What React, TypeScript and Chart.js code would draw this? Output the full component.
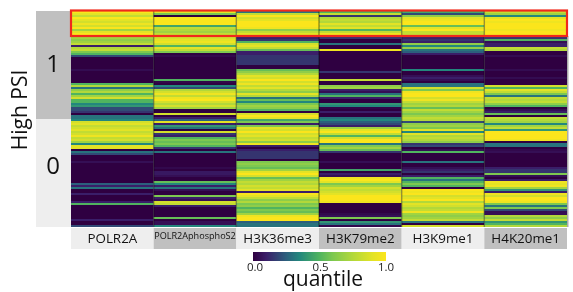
import React, { useEffect, useRef } from "react";
import { Chart, registerables } from "chart.js";

Chart.register(...registerables);

const trackLabels = ["POLR2A", "POLR2AphosphoS2", "H3K36me3", "H3K79me2", "H3K9me1", "H4K20me1"];
const groupLabels = ["1", "0"];
const axisTitle = "High PSI";
const legendTitle = "quantile";

const polr2a = [
  1,.9,.8,1,.9,.85,.95,.85,1,.7,.9,1,.8,.7,.65,.7,.8,.1,.75,.8,.6,.5,.2,0,0,0,0,0,0,.04,0,0,0,0,0,0,
  .5,.75,.3,.65,.75,.5,.7,.85,.5,.5,.35,.4,.2,.2,.15,0,.3,.3,
  .35,.85,.9,.8,.85,.9,.8,.85,.95,.8,.85,.7,.35,.9,.9,0,.3,.2,0,0,0,.05,0,0,0,0,0,0,0,0,0,0,
  .25,.1,.3,0,0,.1,0,0,0,.1,.5,0,0,0,0,0,0,0,.1,0,0,.2,
];
const polr2aPhosphoS2 = [
  .9,.6,0,1,1,1,1,.45,.8,.75,.7,.8,.8,.85,.9,.95,.85,.5,.9,.8,.6,0,.03,0,0,0,0,0,0,0,0,0,0,0,
  .5,.02,0,.35,.2,.75,.85,.95,.8,.95,1,.85,.75,.85,.7,0,0,.85,0,.1,
  .25,.9,.1,.4,.3,0,.85,.15,.1,.5,.6,.55,.6,.5,.15,0,.3,0,0,0,0,0,0,0,.03,0,.08,.08,.05,0,0,
  .55,.35,.1,.3,.05,0,0,.6,.1,.05,.85,.8,.1,0,0,0,0,0,.55,0,.05,.05,.35,
];
const h3k36me3 = [
  .3,.8,1,.85,.9,1,1,1,.95,.65,.8,.9,.8,.1,.15,.5,.85,.9,.8,.55,.1,.1,.15,.15,.15,.15,.15,0,0,
  .55,.65,.75,.9,.85,1,.85,.95,.8,.9,.75,.65,.9,.75,.3,.55,.35,.6,.7,.65,.5,0,.85,1,.9,
  .45,.6,.1,.6,.9,.85,1,.85,.9,.8,.85,.65,.95,.1,0,.1,.15,.15,.15,.15,0,.6,.65,.6,.55,.7,.9,1,.85,
  .55,.7,.8,.75,.85,.8,.9,.1,1,.9,.8,.65,.75,.6,.65,.5,.6,.55,.7,.95,1,1,.25,.3,.3,
];
const h3k79me2 = [
  .5,.8,.15,.75,.8,.75,.9,.8,.9,.5,.8,.95,.8,.15,0,0,.3,0,0,.95,0,0,0,0,0,0,0,0,0,0,.15,0,0,0,
  .8,0,0,.65,.7,.1,.05,.3,.5,.1,0,0,.4,.35,.02,0,.1,0,0,.3,
  .35,.25,.2,.1,.7,.9,1,.8,.5,.85,1,1,.3,.6,.7,.55,.15,0,0,0,0,.05,0,0,0,.45,0,.1,.05,
  .95,1,.9,.6,.7,.85,.8,.85,.9,1,1,1,.95,0,0,0,0,0,.03,.05,.6,0,.4,.3,.03,
];
const h3k9me1 = [
  .45,.2,.65,.9,.95,1,1,.55,.9,1,.8,.8,.7,.1,.15,.1,.65,.35,.65,.3,.25,.1,0,0,0,0,0,0,0,
  .35,0,0,.05,.1,.05,0,.3,.3,.85,.6,.95,1,1,.85,.95,.8,.7,.75,.55,.8,.7,.6,.7,.8,
  .75,.2,.65,.7,.6,.9,.35,.9,.75,.8,.75,.65,.15,.2,0,.05,.5,0,0,0,0,.3,0,0,.05,.1,.15,0,.1,
  .5,.3,.5,.6,.5,0,1,.95,1,.85,.9,1,.75,.9,.85,.75,.8,.95,.7,.65,.7,.8,.3,0,.85,
];
const h4k20me1 = [
  .8,.7,.35,.9,1,.95,1,1,1,.95,1,1,.9,.15,.5,.05,.1,.1,.8,.75,0,0,.04,0,0,0,0,0,0,.04,0,0,0,.04,0,0,0,
  .85,.5,.9,.8,.6,.3,.8,.75,.8,.65,.5,0,.05,.1,.55,0,.8,
  .75,.7,.35,.7,.8,.4,1,1,1,1,.95,0,.3,.3,0,.03,.05,0,0,0,0,0,0,0,.1,.15,.15,.6,.05,0,
  .1,.95,.9,.95,.7,.4,.1,.95,.85,1,1,.95,.6,.3,.6,.2,.05,.05,.75,.65,.8,.4,.5,.75,
];
const columns = [polr2a, polr2aPhosphoS2, h3k36me3, h3k79me2, h3k9me1, h4k20me1];
const rowCount = 108;
const rowIndex = Array.from({ length: rowCount }, (_, i) => i);

const ramp: [number, number, number, number][] = [
  [0, 47, 0, 65],
  [0.1, 58, 30, 105],
  [0.15, 53, 52, 111],
  [0.25, 44, 95, 125],
  [0.35, 35, 135, 125],
  [0.5, 80, 180, 95],
  [0.6, 125, 200, 80],
  [0.75, 178, 216, 58],
  [0.9, 227, 227, 37],
  [1, 251, 229, 28],
];
function colorOf(v: number) {
  for (let i = 1; i < ramp.length; i++) {
    if (v <= ramp[i][0]) {
      const a = ramp[i - 1];
      const b = ramp[i];
      const t = (v - a[0]) / (b[0] - a[0]);
      const m = (k: number) => Math.round(a[k] + (b[k] - a[k]) * t);
      return `rgb(${m(1)},${m(2)},${m(3)})`;
    }
  }
  return "rgb(251,229,28)";
}

const FONT = '"Open Sans", sans-serif';

const decor = {
  id: "decor",
  beforeDraw(chart: any) {
    const { ctx, chartArea: a, scales } = chart;
    const { x, y } = scales;
    ctx.save();
    ctx.fillStyle = "#c0c0c0";
    ctx.fillRect(36, y.getPixelForValue(0), a.left - 36, y.getPixelForValue(54) - y.getPixelForValue(0));
    ctx.fillStyle = "#eeeeee";
    ctx.fillRect(36, y.getPixelForValue(54), a.left - 36, y.getPixelForValue(108) - y.getPixelForValue(54));
    const step = (a.right - a.left) / trackLabels.length;
    trackLabels.forEach((_, i) => {
      ctx.fillStyle = i % 2 ? "#c0c0c0" : "#eeeeee";
      ctx.fillRect(x.getPixelForTick(i) - step / 2, a.bottom + 1, step, 21);
    });
    ctx.restore();
  },
  afterDatasetsDraw(chart: any) {
    const { ctx, chartArea: a, scales } = chart;
    const { x, y } = scales;
    const step = (a.right - a.left) / trackLabels.length;
    ctx.save();
    ctx.strokeStyle = "rgba(0,0,0,0.38)";
    ctx.lineWidth = 1.4;
    for (let i = 1; i < trackLabels.length; i++) {
      const px = x.getPixelForTick(i) - step / 2;
      ctx.beginPath();
      ctx.moveTo(px, a.top);
      ctx.lineTo(px, a.bottom);
      ctx.stroke();
    }
    ctx.fillStyle = "#aaaaaa";
    ctx.fillRect(a.right, y.getPixelForValue(12.5), 1.5, a.bottom - y.getPixelForValue(12.5));
    ctx.strokeStyle = "#f0281c";
    ctx.lineWidth = 2.2;
    ctx.strokeRect(a.left, y.getPixelForValue(0) - 0.5, a.right - a.left, y.getPixelForValue(12.5) - y.getPixelForValue(0) + 0.5);
    ctx.restore();
  },
  afterDraw(chart: any) {
    const { ctx } = chart;
    ctx.save();
    ctx.translate(21, 110);
    ctx.rotate(-Math.PI / 2);
    ctx.textAlign = "center";
    ctx.textBaseline = "middle";
    ctx.fillStyle = "#111111";
    ctx.font = `21px ${FONT}`;
    ctx.fillText(axisTitle, 0, 0);
    ctx.restore();
  },
};

const legendText = {
  id: "legendText",
  afterDraw(chart: any) {
    const { ctx } = chart;
    ctx.save();
    ctx.textAlign = "center";
    ctx.textBaseline = "alphabetic";
    ctx.fillStyle = "#111111";
    ctx.font = `21px ${FONT}`;
    ctx.fillText(legendTitle, 123, 41);
    ctx.restore();
  },
};

export default function App() {
  const mainRef = useRef<HTMLCanvasElement>(null);
  const barRef = useRef<HTMLCanvasElement>(null);

  useEffect(() => {
    document.body.style.margin = "0";
    const main = new Chart(mainRef.current!, {
      type: "bar",
      data: {
        labels: trackLabels,
        datasets: rowIndex.map((r) => ({
          data: trackLabels.map(() => 1),
          backgroundColor: columns.map((c) => colorOf(c[r] ?? 0)),
          borderWidth: 0,
          inflateAmount: 0,
          barPercentage: 1,
          categoryPercentage: 1,
        })),
      },
      options: {
        animation: false,
        responsive: false,
        layout: { padding: { top: 11, right: 6, left: 0, bottom: 0 } },
        plugins: { legend: { display: false }, tooltip: { enabled: false } },
        scales: {
          x: {
            stacked: true,
            grid: { display: false, drawTicks: false },
            border: { display: false },
            afterFit: (s: any) => { s.height = 65; s.paddingLeft = 0; s.paddingRight = 0; },
            ticks: {
              maxRotation: 0,
              autoSkip: false,
              padding: 4,
              color: "#111111",
              font: (ctx: any) => ({ family: FONT, size: ctx.index === 1 ? 9.1 : 13.4 }),
            },
          },
          y: {
            stacked: true,
            reverse: true,
            min: 0,
            max: rowCount,
            grid: { display: false, drawTicks: false },
            border: { display: false },
            afterFit: (s: any) => { s.width = 71; s.paddingTop = 0; s.paddingBottom = 0; },
            afterBuildTicks: (s: any) => { s.ticks = [{ value: 27 }, { value: 78 }]; },
            ticks: {
              autoSkip: false,
              padding: 11,
              color: "#111111",
              font: { family: FONT, size: 24 },
              callback: (v: any) => (v === 27 ? groupLabels[0] : groupLabels[1]),
            },
          },
        },
      },
      plugins: [decor],
    } as any);

    const bar = new Chart(barRef.current!, {
      type: "bar",
      data: {
        labels: [legendTitle],
        datasets: [
          {
            data: [[-0.015, 1]],
            borderWidth: 0,
            inflateAmount: 0,
            barPercentage: 1,
            categoryPercentage: 1,
            backgroundColor: (ctx: any) => {
              const a = ctx.chart.chartArea;
              if (!a) return "#000";
              const g = ctx.chart.ctx.createLinearGradient(a.left, 0, a.right, 0);
              ramp.forEach((s) => g.addColorStop(s[0], `rgb(${s[1]},${s[2]},${s[3]})`));
              return g;
            },
          },
        ],
      },
      options: {
        indexAxis: "y",
        animation: false,
        responsive: false,
        layout: { padding: { top: 7, left: 53, right: 54, bottom: 0 } },
        plugins: { legend: { display: false }, tooltip: { enabled: false } },
        scales: {
          y: { display: false },
          x: {
            min: -0.015,
            max: 1,
            grid: { display: false, drawTicks: false },
            border: { display: false },
            afterFit: (s: any) => { s.height = 31; s.paddingLeft = 0; s.paddingRight = 0; },
            afterBuildTicks: (s: any) => { s.ticks = [{ value: 0 }, { value: 0.5 }, { value: 1 }]; },
            ticks: {
              padding: 0,
              maxRotation: 0,
              color: "#222222",
              font: { family: FONT, size: 11.5 },
              callback: (v: any) => Number(v).toFixed(1),
            },
          },
        },
      },
      plugins: [legendText],
    } as any);

    return () => {
      main.destroy();
      bar.destroy();
    };
  }, []);

  return (
    <div style={{ position: "fixed", left: 0, top: 0, width: 573, height: 292, background: "#fff" }}>
      <canvas ref={mainRef} width={573} height={292} style={{ position: "absolute", left: 0, top: 0 }} />
      <canvas ref={barRef} width={240} height={47} style={{ position: "absolute", left: 200, top: 245 }} />
    </div>
  );
}
